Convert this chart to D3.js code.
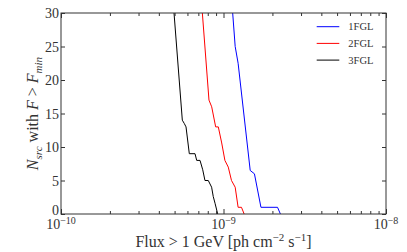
<!DOCTYPE html>
<html lang="en">
<head>
<meta charset="utf-8">
<script src="https://cdn.jsdelivr.net/npm/d3@7"></script>
<style>
    body { margin: 0; background: #fff; }
    svg { font-family: 'Liberation Serif', 'DejaVu Serif', serif; }
    .axis path, .axis line { stroke: #333; }
    .axis text { fill: #333; }
</style>
</head>
<body>
<script>
    // cumulative source counts: flux [ph cm^-2 s^-1], N
    var flux1FGL = [1.139e-9, 1.18e-9, 1.23e-9, 1.46e-9, 1.55e-9, 1.70e-9, 2.15e-9, 2.24e-9];
    var n1FGL    = [30, 25, 22.5, 6.5, 6, 1, 1, 0];

    var flux2FGL = [7.41e-10, 8.14e-10, 8.46e-10, 8.95e-10, 9.29e-10, 9.75e-10, 1.02e-9, 1.07e-9, 1.12e-9, 1.18e-9, 1.23e-9, 1.29e-9, 1.34e-9];
    var n2FGL    = [30, 17, 16, 13, 13, 10.6, 8, 7, 5, 4, 1, 1, 0];

    var flux3FGL = [4.96e-10, 5.58e-10, 5.74e-10, 5.88e-10, 6.16e-10, 6.68e-10, 6.84e-10, 7.17e-10, 7.45e-10, 7.69e-10, 8.06e-10, 8.45e-10, 8.65e-10, 8.87e-10, 9.21e-10];
    var n3FGL    = [30, 14, 13.5, 13, 9, 9, 8, 8, 6.6, 5, 5, 4, 2.6, 1.6, 0];

    var seriesNames = ['1FGL', '2FGL', '3FGL'];
    var seriesColors = ['#0000ff', '#ff0000', '#000000'];
    var yTicks = [0, 5, 10, 15, 20, 25, 30];
    var xDecades = [-10, -9, -8];

    var W = 407, H = 252;
    var margin = {top: 13, right: 21, bottom: 38, left: 61};
    var width = W - margin.left - margin.right,
        height = H - margin.top - margin.bottom;

    var svg = d3.select('body').append('svg')
        .attr('width', W)
        .attr('height', H);

    var g = svg.append('g')
        .attr('transform', 'translate(' + margin.left + ',' + margin.top + ')');

    var x = d3.scaleLog().domain([1e-10, 1e-8]).range([0, width]);
    var y = d3.scaleLinear().domain([0, 30]).range([height, 0]);

    var majorX = xDecades.map(function(p) { return Math.pow(10, p); });
    var minorX = [];
    [-10, -9].forEach(function(p) {
        for (var k = 2; k < 10; k++) minorX.push(k * Math.pow(10, p));
    });

    // data lines
    var line = d3.line()
        .x(function(d) { return x(d[0]); })
        .y(function(d) { return y(d[1]); });

    var allSeries = [
        d3.zip(flux1FGL, n1FGL),
        d3.zip(flux2FGL, n2FGL),
        d3.zip(flux3FGL, n3FGL)
    ];

    g.selectAll('path.series')
        .data(allSeries)
        .enter()
        .append('path')
        .attr('class', 'series')
        .attr('fill', 'none')
        .attr('stroke', function(d, i) { return seriesColors[i]; })
        .attr('stroke-width', 1)
        .attr('d', line);

    // frame
    g.append('rect')
        .attr('width', width)
        .attr('height', height)
        .attr('fill', 'none')
        .attr('stroke', '#333')
        .attr('stroke-width', 1);

    // ticks (inward, on all four sides)
    function tickAxis(axisFn, scale, values, size, transform) {
        var a = g.append('g')
            .attr('class', 'axis')
            .attr('transform', transform || null)
            .call(axisFn(scale).tickValues(values).tickSize(size).tickFormat(''));
        a.select('.domain').remove();
        return a;
    }
    tickAxis(d3.axisBottom, x, majorX, -5, 'translate(0,' + height + ')');
    tickAxis(d3.axisBottom, x, minorX, -3, 'translate(0,' + height + ')');
    tickAxis(d3.axisTop, x, majorX, -5);
    tickAxis(d3.axisTop, x, minorX, -3);
    tickAxis(d3.axisLeft, y, yTicks, -4);
    tickAxis(d3.axisRight, y, yTicks, -4, 'translate(' + width + ',0)');

    // y tick labels
    g.selectAll('text.ylab')
        .data(yTicks)
        .enter()
        .append('text')
        .attr('class', 'ylab')
        .attr('x', -2)
        .attr('y', function(d) { return y(d) + (d === 0 ? 1 : 5); })
        .attr('text-anchor', 'end')
        .attr('fill', '#333')
        .style('font-size', '14px')
        .text(function(d) { return d; });

    // x tick labels 10^p
    var xl = g.selectAll('text.xlab')
        .data(xDecades)
        .enter()
        .append('text')
        .attr('class', 'xlab')
        .attr('x', function(d) { return x(Math.pow(10, d)); })
        .attr('y', height + 15)
        .attr('text-anchor', 'middle')
        .attr('fill', '#333')
        .style('font-size', '14px');
    xl.append('tspan').text('10');
    xl.append('tspan')
        .attr('dy', -5)
        .style('font-size', '10px')
        .text(function(d) { return '\u2212' + Math.abs(d); });

    // x axis title
    var xt = svg.append('text')
        .attr('x', margin.left + width / 2)
        .attr('y', 247)
        .attr('text-anchor', 'middle')
        .attr('fill', '#333')
        .style('font-size', '16px');
    xt.append('tspan').text('Flux > 1 GeV [ph cm');
    xt.append('tspan').attr('dy', -6).style('font-size', '11px').text('\u22122');
    xt.append('tspan').attr('dy', 6).text(' s');
    xt.append('tspan').attr('dy', -6).style('font-size', '11px').text('\u22121');
    xt.append('tspan').attr('dy', 6).text(']');

    // y axis title
    var yt = svg.append('text')
        .attr('transform', 'translate(38,' + (margin.top + height / 2) + ') rotate(-90)')
        .attr('text-anchor', 'middle')
        .attr('fill', '#333')
        .style('font-size', '16px');
    yt.append('tspan').style('font-style', 'italic').text('N');
    yt.append('tspan').attr('dy', 4).style('font-style', 'italic').style('font-size', '11px').text('src');
    yt.append('tspan').attr('dy', -4).text(' with ');
    yt.append('tspan').style('font-style', 'italic').text('F');
    yt.append('tspan').text(' > ');
    yt.append('tspan').style('font-style', 'italic').text('F');
    yt.append('tspan').attr('dy', 4).style('font-style', 'italic').style('font-size', '11px').text('min');

    // legend
    var legend = g.append('g')
        .attr('transform', 'translate(' + (316.7 - margin.left) + ',' + (26.7 - margin.top) + ')');
    var items = legend.selectAll('g')
        .data(seriesNames)
        .enter()
        .append('g')
        .attr('transform', function(d, i) { return 'translate(0,' + (i * 16.7) + ')'; });
    items.append('line')
        .attr('x1', 0).attr('x2', 22.6)
        .attr('stroke', function(d, i) { return seriesColors[i]; })
        .attr('stroke-width', 1);
    items.append('text')
        .attr('x', 31.6)
        .attr('y', 3.5)
        .attr('fill', '#333')
        .style('font-size', '10.5px')
        .text(function(d) { return d; });
</script>
</body>
</html>
